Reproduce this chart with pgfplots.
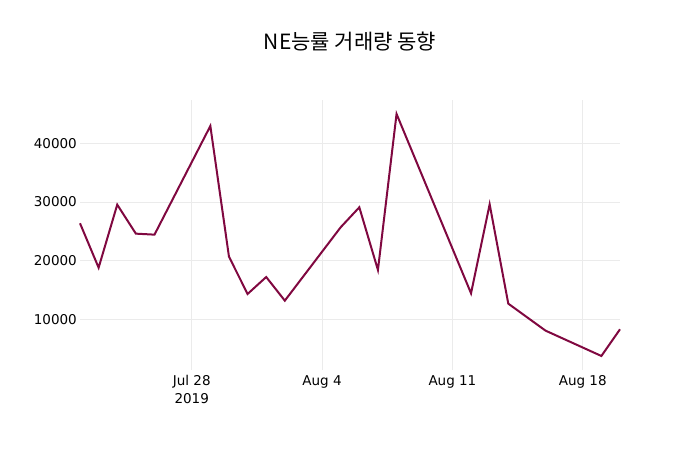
\documentclass[border=0pt]{standalone}
\usepackage{fontspec}
\setmainfont{DejaVu Sans}
\newfontfamily\kr{Noto Sans CJK KR}
\usepackage{pgfplots}
\pgfplotsset{compat=1.18}
\definecolor{linec}{RGB}{128,8,64}
\definecolor{gridc}{RGB}{235,235,235}
\begin{document}
\begin{tikzpicture}[x=1pt,y=1pt]
\path[use as bounding box] (0,0) rectangle (700,450);
\node[font=\kr\fontsize{21}{24}\selectfont, anchor=base] at (350,400) {NE능률 거래량 동향};
\begin{axis}[
  at={(80pt,80pt)}, anchor=south west,
  width=540pt, height=270pt, scale only axis,
  xmin=-6, xmax=23, ymin=1360, ymax=47380,
  axis line style={draw=none},
  major tick length=0pt,
  grid=major,
  grid style={gridc, line width=0.8pt},
  xtick={0,7,14,21},
  xticklabels={{Jul 28\\2019},{Aug 4},{Aug 11},{Aug 18}},
  ytick={10000,20000,30000,40000},
  scaled y ticks=false,
  /pgf/number format/assume math mode=true,
  /pgf/number format/set thousands separator={},
  /pgf/number format/fixed,
  yticklabel style={anchor=east, inner sep=0pt, xshift=-3pt, font=\fontsize{13.5}{15}\selectfont},
  xticklabel style={anchor=north, inner sep=0pt, yshift=-5pt, align=center, font=\fontsize{13.5}{18}\selectfont},
  clip=false,
]
\addplot[linec, line width=2pt, line join=miter] coordinates {
(-6,26370) (-5,18800) (-4,29540) (-3,24600) (-2,24430)
(1,42950) (2,20680) (3,14320) (4,17210) (5,13180)
(8,25690) (9,29090) (10,18410) (11,45000)
(15,14430) (16,29600) (17,12670) (19,8070)
(22,3750) (23,8300)
};
\end{axis}
\end{tikzpicture}
\end{document}
